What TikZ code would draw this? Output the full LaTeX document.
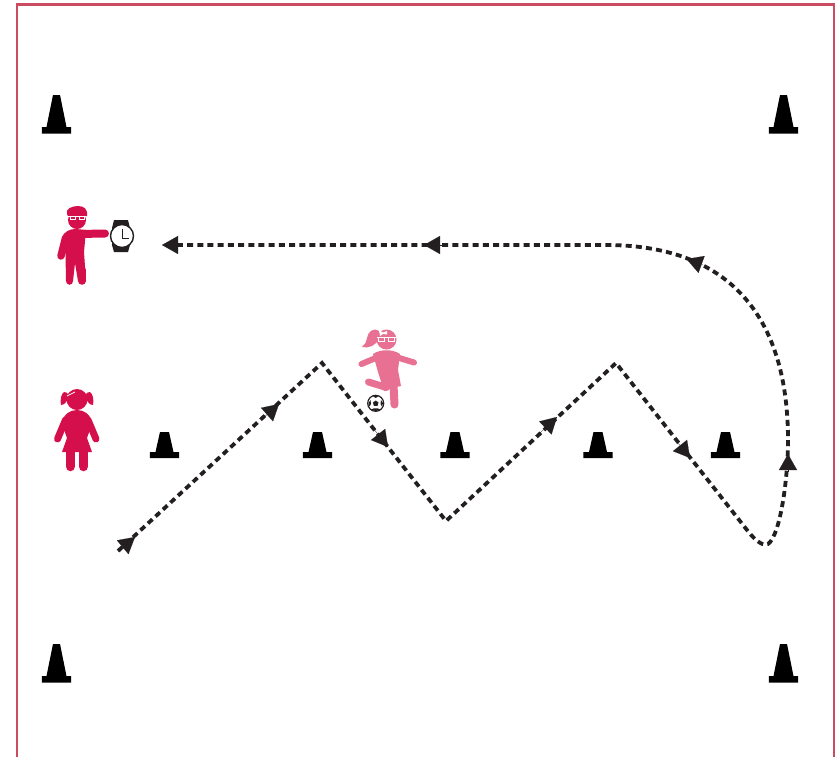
\documentclass[tikz,border=0pt]{standalone}
\usetikzlibrary{arrows.meta}
\definecolor{framered}{RGB}{203,76,96}
\definecolor{crimson}{RGB}{212,15,75}
\definecolor{rosepink}{RGB}{232,112,146}
\definecolor{inkdark}{RGB}{35,31,32}
\tikzset{
  field/.style={draw=framered,line width=2.6pt},
  course/.style={draw=inkdark,line width=3.8pt,dash pattern=on 6pt off 4.2pt},
  tip/.style={draw=inkdark,fill=inkdark,-{Triangle[length=16pt,width=18pt]},line width=0.1pt},
  limb/.style={line width=#1,line cap=round,line join=round},
  lens/.style={draw=white,line width=0.7pt},
  pics/bigcone/.style={code={
    \fill[black] (-3.5,-32) -- (3.5,-32) -- (10,0) -- (14.7,0) -- (14.7,6.5) -- (-14.7,6.5) -- (-14.7,0) -- (-10,0) -- cycle;}},
  pics/smallcone/.style={code={
    \fill[black] (-4.5,-20) -- (4.5,-20) -- (9,0) -- (14.7,0) -- (14.7,6) -- (-14.7,6) -- (-14.7,0) -- (-9,0) -- cycle;}},
}
\begin{document}
\begin{tikzpicture}[x=1pt,y=-1pt]
\useasboundingbox (0,0) rectangle (838,756);
\fill[white] (0,0) rectangle (838,756);
% field frame
\coordinate (fbl) at (17,760);
\coordinate (ftl) at (17,4.5);
\coordinate (ftr) at (834,4.5);
\coordinate (fbr) at (834,760);
\draw[field] (fbl) -- (ftl) -- (ftr) -- (fbr);
% cones
\pic (c1) at (56.5,127) {bigcone};
\pic (c2) at (783.5,127) {bigcone};
\pic (c3) at (56.5,676) {bigcone};
\pic (c4) at (783.5,676) {bigcone};
\pic (s1) at (164.5,452) {smallcone};
\pic (s2) at (317.5,452) {smallcone};
\pic (s3) at (455,452) {smallcone};
\pic (s4) at (598,452) {smallcone};
\pic (s5) at (725.5,452) {smallcone};
% course
\coordinate (p0) at (118,551);
\coordinate (p1) at (322,363);
\coordinate (p2) at (446,521);
\coordinate (p3) at (616,363);
\coordinate (p4) at (747,530);
\coordinate (p5) at (788,440);
\coordinate (p6) at (606,245);
\coordinate (p7) at (170,245);
\draw[course] (p0) -- (p1) -- (p2) -- (p3) -- (p4)
  .. controls (757,543) and (764,546) .. (768,544)
  .. controls (780,536) and (788,480) .. (p5)
  .. controls (788,315) and (728,245) .. (p6) -- (p7);
% arrow tips
\coordinate (a1) at (120,549.5); \coordinate (b1) at (135,537);
\coordinate (a2) at (262,419);   \coordinate (b2) at (279,404);
\coordinate (a3) at (373,428);   \coordinate (b3) at (388,447);
\coordinate (a4) at (540,433);   \coordinate (b4) at (557,417);
\coordinate (a5) at (674,438);   \coordinate (b5) at (690,458);
\coordinate (a6) at (788,472);   \coordinate (b6) at (788,454);
\coordinate (a7) at (703,265);   \coordinate (b7) at (686.5,259);
\coordinate (a8) at (442,245);   \coordinate (b8) at (424,245);
\coordinate (a9) at (180,245);   \coordinate (b9) at (162,245);
\foreach \k in {1,...,9} \draw[tip] (a\k) -- (b\k);
% teacher
\fill[crimson] (62,238) .. controls (64,231) and (70,229) .. (76,229) -- (86,230) -- (84,252) -- (86,281) -- (78,281) -- (75,263) -- (73,281) -- (66,281) -- (65.5,254) -- cycle;
\draw[crimson,limb=7.5pt] (65.5,238) -- (61,256);
\draw[crimson,limb=8pt] (78,234) -- (105,233.5);
\draw[crimson,limb=7.5pt] (69.7,270) -- (69.7,281);
\draw[crimson,limb=7.5pt] (82,270) -- (82,281);
\fill[crimson] (77,220) circle (9);
\fill[crimson] (67,214) .. controls (65,209) and (72,206) .. (78,206) .. controls (84,206) and (88,209) .. (87,216) -- (68,216) -- cycle;
\draw[lens] (68,216.7) -- (86,216.7);
\draw[lens] (70,216.7) rectangle (75.5,219.8);
\draw[lens] (79,216.7) rectangle (84.5,219.8);
% watch
\fill[inkdark] (114,220) -- (128,220) -- (130,228) -- (130,245) -- (128,252) -- (114,252) -- (112,245) -- (112,228) -- cycle;
\filldraw[fill=white,draw=inkdark,line width=1.4pt] (122,236) circle (11.5);
\draw[inkdark,line width=1pt] (122,229) -- (122,238.5) -- (129,238.5);
% red girl
\fill[crimson] (62,424) .. controls (63,414) and (70,410) .. (77,410) .. controls (84,410) and (91,414) .. (92,424) -- (87,438) -- (92,452) -- (62,452) -- (67,438) -- cycle;
\draw[crimson,limb=7pt] (65.5,420) -- (57.5,439);
\draw[crimson,limb=7pt] (88,420) -- (96,439);
\draw[crimson,limb=9.5pt] (70.3,448) -- (70.3,466.5);
\draw[crimson,limb=9.5pt] (83.5,448) -- (83.5,466.5);
\fill[crimson] (77,399.5) circle (10.5);
\fill[crimson] (64,392) .. controls (70,391) and (69,400) .. (66,402) .. controls (65,404) and (63,405) .. (61,405) .. controls (60,400) and (61,394) .. (64,392) -- cycle;
\fill[crimson] (90,392) .. controls (84,391) and (85,400) .. (88,402) .. controls (89,404) and (91,405) .. (93,405) .. controls (94,400) and (93,394) .. (90,392) -- cycle;
\fill[crimson] (68,394) .. controls (72,388.5) and (82,388.5) .. (86,394) -- (86,398) -- (68,398) -- cycle;
\draw[white,line width=0.8pt] (67,396) -- (75,392);
% pink girl
\fill[rosepink] (373,354) .. controls (380,349) and (393,349) .. (400,354) -- (398,370) -- (401,386) -- (391,388) -- (384,391) -- (378,372) -- cycle;
\draw[rosepink,limb=6pt] (378,357) -- (361.5,364);
\draw[rosepink,limb=6pt] (396,357) -- (414,362.5);
\draw[rosepink,limb=8pt] (393.5,385) -- (394.5,404.5);
\draw[rosepink,limb=7pt] (386.5,387.5) -- (368.5,382);
\fill[rosepink] (386.5,339.5) circle (10);
\fill[rosepink] (379,331) .. controls (373,327) and (368,332) .. (367,338) .. controls (366,342) and (365,345) .. (362,347) .. controls (369,349) and (376,345) .. (379,339) -- cycle;
\fill[rosepink] (380,334) .. controls (383,329) and (391,329) .. (394,334) -- cycle;
\fill[white] (379,330) -- (383,332.5) -- (387,331) -- (387,334.5) -- (383,334) -- (380,336) -- cycle;
\draw[lens] (376.7,337.7) -- (396,337.7);
\draw[lens] (378.5,337.7) rectangle (384.5,341);
\draw[lens] (388.5,337.7) rectangle (394.5,341);
% ball
\filldraw[fill=white,draw=inkdark,line width=1.2pt] (375.7,403.3) circle (8);
\fill[inkdark] (375.7,400.5) -- (378.5,402.5) -- (377.5,405.8) -- (373.9,405.8) -- (372.9,402.5) -- cycle;
\fill[inkdark] (375.7,395.5) -- (378.5,396.2) -- (375.7,398) -- (373,396.2) -- cycle;
\fill[inkdark] (368.5,403) -- (370.5,400) -- (371,404) -- (369.5,406.5) -- cycle;
\fill[inkdark] (383,403) -- (381,400) -- (380.5,404) -- (382,406.5) -- cycle;
\fill[inkdark] (371,409.5) -- (374,408.3) -- (377.5,408.3) -- (380.5,409.5) -- (375.7,411) -- cycle;
\end{tikzpicture}
\end{document}
